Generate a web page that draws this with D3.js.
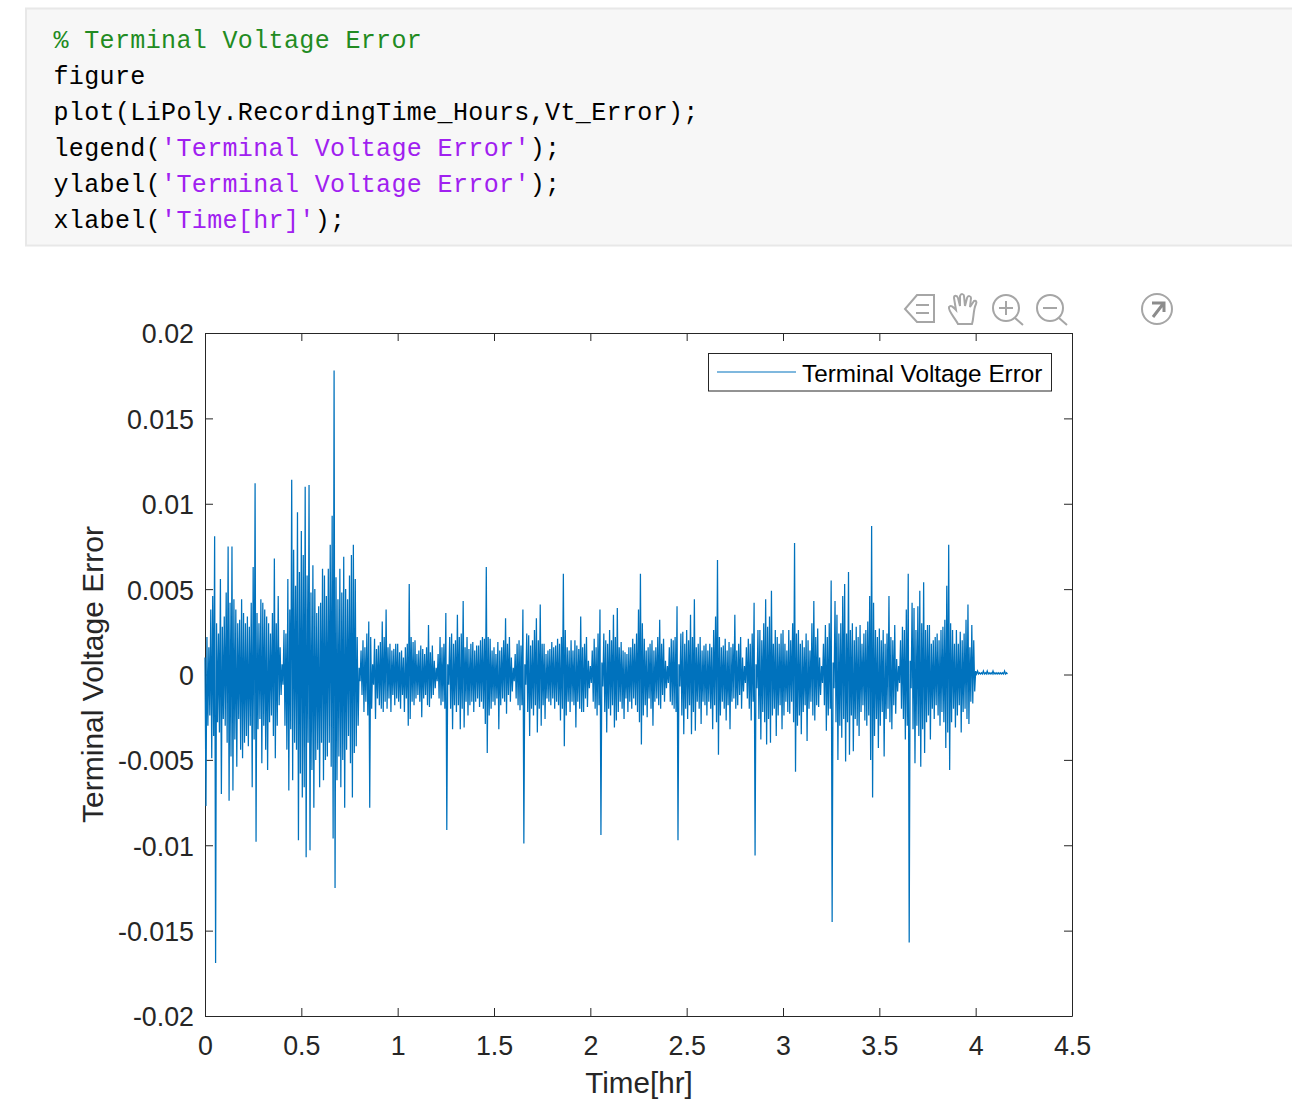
<!DOCTYPE html>
<html>
<head>
<meta charset="utf-8">
<script src="https://cdn.jsdelivr.net/npm/d3@7"></script>
<style>
html, body { margin: 0; padding: 0; background: #fff; overflow: hidden; }
.axis text { font-family: "Liberation Sans", Arial, sans-serif; font-size: 26.8px; fill: #262626; }
.axis path, .axis line { stroke: #262626; stroke-width: 1; }
</style>
</head>
<body>
<div id="chart"></div>
<script>
// code listing above the plot
const codeLines = [
  [["% Terminal Voltage Error", "comment"]],
  [["figure", "plain"]],
  [["plot(LiPoly.RecordingTime_Hours,Vt_Error);", "plain"]],
  [["legend(", "plain"], ["'Terminal Voltage Error'", "string"], [");", "plain"]],
  [["ylabel(", "plain"], ["'Terminal Voltage Error'", "string"], [");", "plain"]],
  [["xlabel(", "plain"], ["'Time[hr]'", "string"], [");", "plain"]]
];

const xTicks = [0, 0.5, 1, 1.5, 2, 2.5, 3, 3.5, 4, 4.5];
const xTickLabels = ['0', '0.5', '1', '1.5', '2', '2.5', '3', '3.5', '4', '4.5'];
const yTicks = [0.02, 0.015, 0.01, 0.005, 0, -0.005, -0.01, -0.015, -0.02];
const yTickLabels = ['0.02', '0.015', '0.01', '0.005', '0', '-0.005', '-0.01', '-0.015', '-0.02'];

// one value per 0.01 hr, unit is 0.1 mV
const upperPeaks = [
  10,22,16,38,46,81,30,24,56,28,
  34,48,75,42,75,44,38,30,32,44,
  36,30,34,28,42,63,112,36,30,44,
  42,38,34,30,24,36,68,30,46,16,
  6,26,24,56,38,114,73,52,95,60,
  84,70,110,58,111,48,64,50,36,40,
  42,62,58,46,62,76,93,178,57,44,
  62,48,69,50,44,58,70,76,56,22,
  4,14,20,16,24,31,22,6,21,15,
  17,19,31,22,38,16,18,14,15,18,
  18,13,14,10,16,18,53,22,19,20,
  12,14,17,15,12,16,29,13,17,8,
  4,12,22,16,18,36,6,22,24,18,
  20,35,22,24,43,16,22,15,18,19,
  14,17,17,20,22,21,63,22,21,14,
  16,12,19,14,16,20,33,18,22,10,
  4,12,18,20,17,38,6,24,23,17,
  20,26,33,20,41,18,18,12,14,15,
  19,16,17,21,18,22,59,26,16,14,
  20,14,20,17,15,34,16,18,22,8,
  5,14,21,16,24,38,7,24,20,18,
  26,20,35,22,39,16,19,14,13,12,
  16,16,21,18,24,38,59,30,21,14,
  16,18,20,14,16,22,32,18,21,8,
  5,16,21,20,22,40,6,24,25,18,
  26,20,35,22,44,16,18,22,14,17,
  18,14,18,16,26,34,67,22,16,17,
  21,14,19,16,18,35,14,18,22,10,
  5,16,21,18,24,42,6,26,26,20,
  30,44,28,34,49,18,26,22,18,24,
  26,18,14,26,20,30,77,24,26,18,
  20,16,24,20,14,30,43,22,27,10,
  5,18,29,22,30,55,7,43,35,24,
  30,46,53,24,60,26,30,20,28,22,
  29,18,24,26,31,46,87,42,26,22,
  27,20,26,18,24,46,22,20,29,9,
  5,20,28,26,38,59,8,42,39,26,
  40,49,30,54,26,29,29,18,20,22,
  24,20,26,28,32,52,76,30,26,18,
  26,18,25,20,24,32,41,16,29,20,
  2,2,1,1,2,1,2,1,1,2,1,1,1,1,1,2,1
];

const lowerPeaks = [
  -77,-30,-24,-49,-36,-169,-28,-34,-70,-26,
  -30,-40,-74,-48,-68,-38,-54,-26,-44,-49,
  -40,-36,-42,-30,-66,-38,-98,-32,-26,-52,
  -30,-44,-56,-28,-24,-36,-49,-30,-18,-12,
  -6,-30,-44,-68,-32,-62,-40,-44,-97,-58,
  -72,-66,-107,-40,-103,-56,-78,-50,-44,-66,
  -40,-62,-50,-48,-40,-54,-96,-125,-62,-48,
  -66,-50,-78,-44,-36,-52,-72,-46,-42,-30,
  -4,-12,-22,-16,-24,-78,-20,-6,-26,-14,
  -18,-20,-22,-16,-20,-14,-22,-12,-18,-14,
  -16,-20,-12,-22,-14,-30,-26,-16,-18,-14,
  -12,-16,-25,-14,-12,-18,-19,-14,-12,-8,
  -4,-14,-18,-16,-20,-91,-6,-20,-32,-18,
  -22,-18,-32,-20,-31,-16,-24,-18,-16,-22,
  -16,-14,-19,-16,-20,-29,-46,-24,-20,-16,
  -18,-14,-32,-18,-14,-16,-23,-12,-16,-10,
  -4,-14,-18,-21,-18,-99,-6,-22,-36,-20,
  -24,-18,-34,-20,-30,-18,-26,-14,-16,-18,
  -14,-20,-16,-18,-27,-20,-42,-24,-16,-22,
  -16,-18,-31,-16,-20,-22,-22,-14,-19,-8,
  -5,-16,-20,-24,-18,-94,-7,-22,-34,-20,
  -24,-18,-31,-27,-22,-16,-20,-26,-14,-22,
  -16,-20,-14,-18,-22,-28,-41,-24,-18,-25,
  -14,-20,-30,-16,-14,-18,-20,-12,-16,-8,
  -5,-16,-18,-20,-22,-97,-7,-24,-35,-20,
  -26,-18,-35,-22,-33,-16,-20,-29,-16,-18,
  -24,-16,-20,-32,-18,-28,-47,-24,-16,-20,
  -27,-18,-32,-16,-14,-20,-18,-12,-20,-10,
  -5,-14,-20,-27,-16,-106,-8,-26,-38,-22,
  -28,-41,-26,-40,-24,-20,-36,-24,-18,-32,
  -24,-16,-22,-23,-16,-28,-57,-30,-24,-35,
  -22,-18,-39,-20,-16,-24,-27,-18,-19,-12,
  -5,-18,-33,-24,-20,-145,-8,-28,-50,-30,
  -37,-26,-51,-28,-47,-24,-45,-26,-30,-36,
  -22,-18,-27,-30,-24,-50,-72,-36,-26,-43,
  -30,-22,-48,-26,-20,-28,-32,-18,-23,-10,
  -5,-20,-26,-38,-30,-157,-8,-32,-52,-30,
  -36,-54,-32,-46,-28,-24,-38,-20,-26,-18,
  -24,-30,-22,-28,-43,-34,-56,-28,-20,-31,
  -24,-18,-34,-22,-20,-26,-29,-16,-17,-10,
  0.3,0.3,0.3,0.3,0.3,0.3,0.3,0.3,0.3,0.3,0.3,0.3,0.3,0.3,0.3,0.3,0.3
];

const sampleStep = 0.01;
const tenthMv = 0.0001;

const width = 1292, height = 1108;
const plot = {left: 205, right: 1072, top: 333, bottom: 1016};

const svg = d3.select('#chart').append('svg').attr('width', width).attr('height', height);

// code block
svg.append('rect').attr('x', 26).attr('y', 8.5).attr('width', width).attr('height', 237)
    .attr('fill', '#f7f7f7').attr('stroke', '#e8e8e8').attr('stroke-width', 2);

const codeColor = {comment: '#228b22', plain: '#000', string: '#a020f0'};
const codeText = svg.append('g').selectAll('text').data(codeLines).join('text')
    .attr('x', 53.5)
    .attr('y', (d, i) => 48 + i * 36)
    .attr('font-family', '"Liberation Mono", monospace')
    .attr('font-size', 25)
    .attr('letter-spacing', 0.36)
    .style('white-space', 'pre');
codeText.selectAll('tspan').data(d => d).join('tspan')
    .attr('fill', d => codeColor[d[1]])
    .text(d => d[0]);

// scales
const x = d3.scaleLinear().domain([0, 4.5]).range([plot.left, plot.right]);
const y = d3.scaleLinear().domain([-0.02, 0.02]).range([plot.bottom, plot.top]);

const xAxis = d3.axisBottom(x).tickValues(xTicks).tickSizeOuter(0).tickSizeInner(-8).tickPadding(20)
    .tickFormat((d, i) => xTickLabels[i]);
const yAxis = d3.axisLeft(y).tickValues(yTicks).tickSizeOuter(0).tickSizeInner(-8).tickPadding(11)
    .tickFormat((d, i) => yTickLabels[i]);

svg.append('g').attr('class', 'axis x').attr('transform', 'translate(0,' + plot.bottom + ')').call(xAxis);
svg.append('g').attr('class', 'axis y').attr('transform', 'translate(' + plot.left + ',0)').call(yAxis)
    .selectAll('text').attr('dy', '0.37em');
// box: same ticks on top and right, no labels
svg.append('g').attr('class', 'axis').attr('transform', 'translate(0,' + plot.top + ')')
    .call(d3.axisTop(x).tickValues(xTicks).tickSizeOuter(0).tickSizeInner(-8).tickFormat(''));
svg.append('g').attr('class', 'axis').attr('transform', 'translate(' + plot.right + ',0)')
    .call(d3.axisRight(y).tickValues(yTicks).tickSizeOuter(0).tickSizeInner(-8).tickFormat(''));

// error trace: each 0.01 hr column goes up to its top value, then down to its bottom value
const trace = [];
upperPeaks.forEach((u, i) => {
  trace.push([i * sampleStep, u * tenthMv]);
  trace.push([(i + 0.5) * sampleStep, lowerPeaks[i] * tenthMv]);
});
const line = d3.line().x(d => x(d[0])).y(d => y(d[1]));
svg.append('path').attr('d', line(trace))
    .attr('fill', 'none').attr('stroke', '#0072bd').attr('stroke-width', 1.25);

// axis labels
svg.append('text').attr('x', 639).attr('y', 1093).attr('text-anchor', 'middle')
    .attr('font-family', '"Liberation Sans", Arial, sans-serif').attr('font-size', 29.6).attr('fill', '#262626')
    .text('Time[hr]');
svg.append('text').attr('transform', 'translate(103,674.5) rotate(-90)').attr('text-anchor', 'middle')
    .attr('font-family', '"Liberation Sans", Arial, sans-serif').attr('font-size', 30).attr('fill', '#262626')
    .text('Terminal Voltage Error');

// legend
const legend = svg.append('g');
legend.append('rect').attr('x', 708.5).attr('y', 353.5).attr('width', 343).attr('height', 37.5)
    .attr('fill', '#fff').attr('stroke', '#262626').attr('stroke-width', 1);
legend.append('line').attr('x1', 717).attr('x2', 796).attr('y1', 372).attr('y2', 372)
    .attr('stroke', '#0072bd').attr('stroke-width', 1.2);
legend.append('text').attr('x', 802).attr('y', 382)
    .attr('font-family', '"Liberation Sans", Arial, sans-serif').attr('font-size', 24.3).attr('fill', '#000')
    .text('Terminal Voltage Error');

// toolbar icons
const icons = svg.append('g').attr('fill', 'none').attr('stroke', '#a6a6a6').attr('stroke-width', 2);
icons.append('path').attr('d', 'M917 295H934V322H917L905 309Z');
icons.append('path').attr('d', 'M916 305H929M916 313H929');
icons.append('path').attr('d', 'M958 324C955 318 948 311 949 307C951 304 954 308 956 310L954 298C954 295 957 295 958 298L960 306L960 296C961 293 964 294 964 296L965 306L967 298C968 295 971 296 971 298L970 307L974 301C976 300 977 302 976 304C973 310 974 318 972 324Z');
icons.append('circle').attr('cx', 1006).attr('cy', 308).attr('r', 13);
icons.append('path').attr('d', 'M999 308H1013M1006 301V315M1015 318L1023 325');
icons.append('circle').attr('cx', 1050).attr('cy', 308).attr('r', 13);
icons.append('path').attr('d', 'M1043 308H1057M1059 318L1067 325');
icons.append('circle').attr('cx', 1157).attr('cy', 309).attr('r', 15);
icons.append('path').attr('d', 'M1152 303H1164V312M1163 304L1153 317').attr('stroke-width', 3).attr('stroke', '#8c8c8c');
</script>
</body>
</html>
